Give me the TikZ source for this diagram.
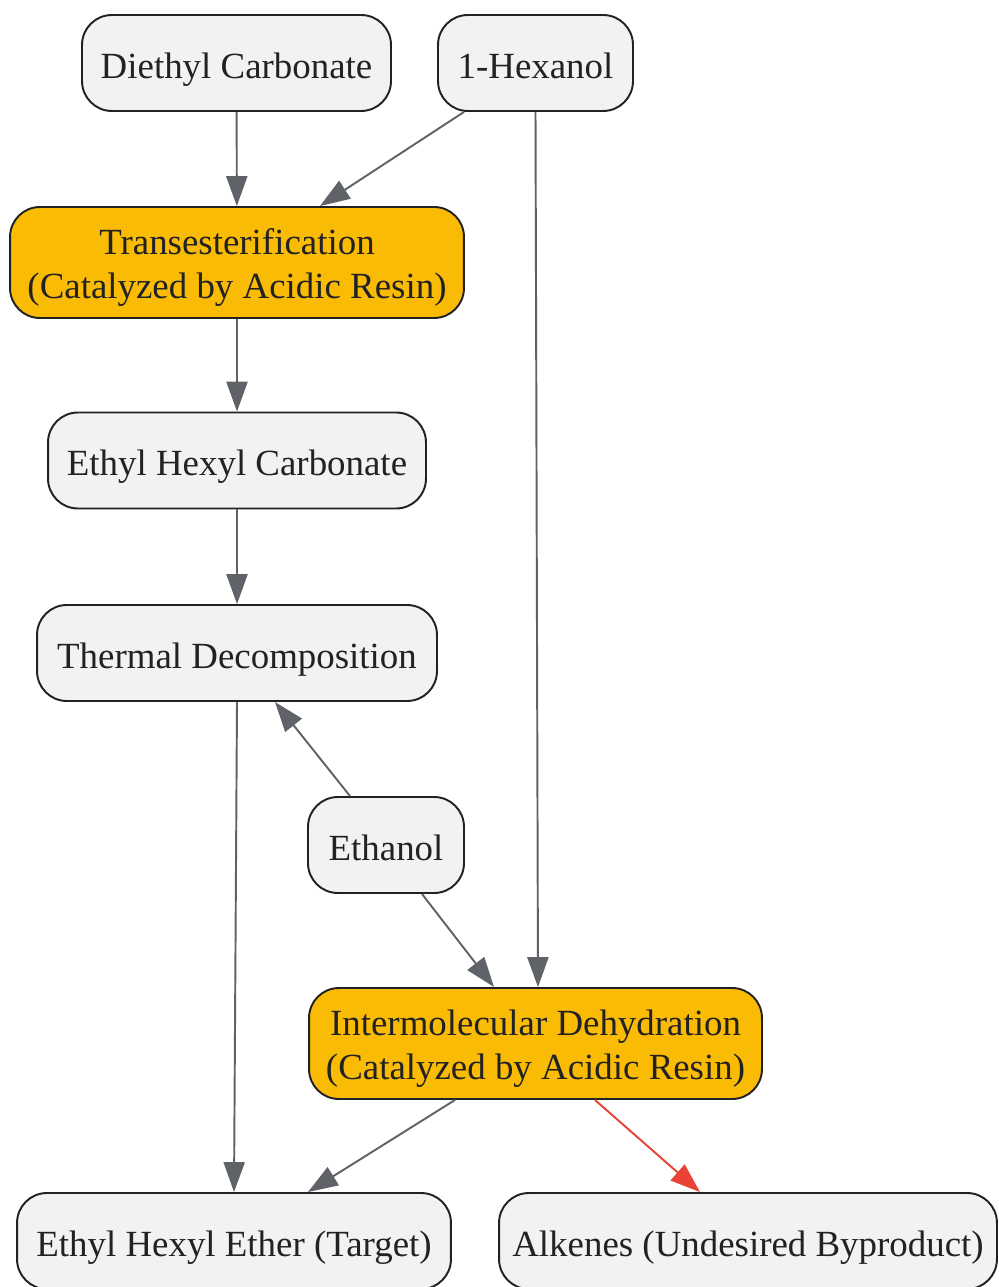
\documentclass[tikz,border=0pt]{standalone}
\usepackage{fontspec}
\setmainfont{Liberation Serif}
\usepackage{tikz}
\usetikzlibrary{arrows.meta, positioning}
\definecolor{boxgray}{HTML}{F1F2F4}
\definecolor{boxyellow}{HTML}{FABB05}
\definecolor{linegray}{HTML}{5F6368}
\definecolor{linered}{HTML}{EA4335}
\definecolor{edgedark}{HTML}{222222}
\tikzset{>={Triangle[length=17pt,width=12pt]}}
\tikzset{
  box/.style={draw=edgedark, line width=1.1pt, rounded corners=17pt, fill=boxgray,
    text=edgedark, align=center, font=\fontsize{21}{25}\selectfont,
    minimum height=1.92cm, inner sep=0pt, text height=17.6pt, text depth=0pt},
  hot/.style={box, fill=boxyellow, minimum height=2.22cm, text height=41.4pt},
  flow/.style={->, draw=linegray, fill=linegray, line width=1.1pt},
  side/.style={->, draw=linered, fill=linered, line width=1.1pt}
}

\begin{document}
\begin{tikzpicture}[x=0.02cm, y=-0.02cm]
		\useasboundingbox (0,0) rectangle (999,1287);
		\node[box, minimum width=6.18cm] (DC) at (236.5,63) {Diethyl Carbonate};
		\node[box, minimum width=3.9cm] (HX) at (535.5,63) {1-Hexanol};
		\node[hot, minimum width=9.08cm] (TR) at (237,262.5) {Transesterification\\(Catalyzed by Acidic Resin)};
		\node[box, minimum width=7.56cm] (EHC) at (237,460.5) {Ethyl Hexyl Carbonate};
		\node[box, minimum width=8cm] (TD) at (237,653) {Thermal Decomposition};
		\node[box, minimum width=3.12cm] (ET) at (386,845) {Ethanol};
		\node[hot, minimum width=9.06cm] (DH) at (535.5,1043.5) {Intermolecular Dehydration\\(Catalyzed by Acidic Resin)};
		\node[box, minimum width=8.68cm] (EHE) at (234,1241) {Ethyl Hexyl Ether (Target)};
		\node[box, minimum width=9.96cm] (AK) at (748,1241) {Alkenes (Undesired Byproduct)};
		\draw [flow](DC)--(TR); \draw [flow]([xshift=-1.43cm]HX.south)--([xshift=1.66cm]TR.north);
		\draw [flow](HX.south)--([xshift=0.05cm]DH.north);
		\draw [flow](TR)--(EHC); \draw [flow](EHC)--(TD);
		\draw [flow](TD.south)--(EHE.north);
		\draw [flow]([xshift=-0.72cm]ET.north)--([xshift=0.76cm]TD.south);
		\draw [flow]([xshift=0.72cm]ET.south)--([xshift=-0.83cm]DH.north);
		\draw [flow]([xshift=-1.61cm]DH.south)--([xshift=1.48cm]EHE.north);
		\draw [side]([xshift=1.19cm]DH.south)--([xshift=-0.96cm]AK.north);
\end{tikzpicture}
\end{document}
